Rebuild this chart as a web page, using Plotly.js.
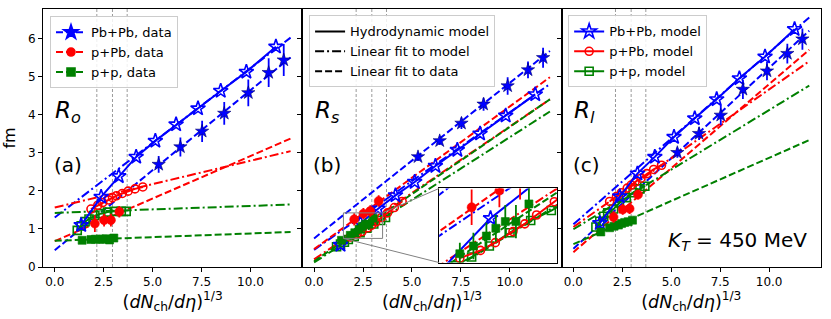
<!DOCTYPE html>
<html><head><meta charset="utf-8">
<script src="https://cdn.plot.ly/plotly-3.0.1.min.js"></script>
<style>body{margin:0;background:#fff}#chart{width:831px;height:319px}</style>
</head><body><div id="chart"></div>
<script>
// ---------- data ----------
const xTickVals = [0, 2.5, 5, 7.5, 10];
const xTickText = ["0.0", "2.5", "5.0", "7.5", "10.0"];
const yTickVals = [0, 1, 2, 3, 4, 5, 6];
const panelNames = ["R_o", "R_s", "R_l"];
const panelLetters = ["(a)", "(b)", "(c)"];
const refLines = [2.15, 2.95, 3.7];

const pbpbModelX = [11.3, 9.79, 8.48, 7.32, 6.2, 5.14, 4.16, 3.27, 2.37, 1.35];
const pbpbModelRo = [5.78, 5.12, 4.62, 4.16, 3.74, 3.31, 2.89, 2.38, 1.84, 1.1];
const pbpbModelRs = [4.53, 3.97, 3.5, 3.07, 2.65, 2.23, 1.88, 1.53, 1.15, 0.58];
const pbpbModelRl = [6.24, 5.52, 4.95, 4.4, 3.9, 3.41, 2.89, 2.45, 1.85, 1.15];

const pbpbDataX = [11.7, 10.93, 9.89, 8.66, 7.53, 6.42, 5.31];
const pbpbDataRo = [5.43, 5.10, 4.57, 4.03, 3.56, 3.15, 2.69];
const pbpbErrRo = [0.42, 0.38, 0.35, 0.3, 0.28, 0.25, 0.22];
const pbpbDataRs = [5.49, 5.17, 4.75, 4.27, 3.77, 3.31, 2.89];
const pbpbErrRs = [0.26, 0.22, 0.23, 0.17, 0.15, 0.11, 0.11];
const pbpbDataRl = [5.98, 5.6, 5.14, 4.66, 3.98, 3.5, 3.0];
const pbpbErrRl = [0.28, 0.26, 0.24, 0.25, 0.26, 0.17, 0.13];

const ppbModelX = [1.85, 2.2, 2.45, 2.75, 2.95, 3.15, 3.45, 3.75, 4.1, 4.5];
const ppbModelRo = [1.52, 1.62, 1.69, 1.76, 1.82, 1.87, 1.93, 1.99, 2.05, 2.1];
const ppbModelRs = [0.79, 0.86, 0.93, 1.03, 1.1, 1.18, 1.3, 1.42, 1.56, 1.72];
const ppbModelRl = [1.72, 1.85, 1.95, 2.07, 2.15, 2.23, 2.33, 2.45, 2.56, 2.67];

const ppbDataX = [2.05, 2.52, 2.87, 3.3];
const ppbDataRo = [1.14, 1.23, 1.23, 1.45];
const ppbErrRo = [0.22, 0.17, 0.17, 0.15];
const ppbDataRs = [1.25, 1.4, 1.47, 1.73];
const ppbErrRs = [0.16, 0.15, 0.15, 0.15];
const ppbDataRl = [1.31, 1.51, 1.53, 1.9];
const ppbErrRl = [0.15, 0.14, 0.14, 0.13];

const ppModelX = [1.15, 1.35, 1.55, 1.75, 2.05, 2.35, 2.7, 3.05, 3.4, 3.65];
const ppModelRo = [0.96, 1.08, 1.19, 1.26, 1.35, 1.4, 1.44, 1.46, 1.46, 1.46];
const ppModelRs = [0.53, 0.6, 0.65, 0.72, 0.8, 0.9, 1.02, 1.13, 1.22, 1.3];
const ppModelRl = [1.05, 1.2, 1.33, 1.42, 1.52, 1.68, 1.82, 1.95, 2.05, 2.12];

const ppDataX = [1.4, 1.85, 2.08, 2.3, 2.46, 2.62, 2.8, 3.02];
const ppDataRo = [0.7, 0.72, 0.73, 0.73, 0.73, 0.74, 0.71, 0.76];
const ppErrRo = [0.08, 0.05, 0.05, 0.05, 0.06, 0.06, 0.06, 0.06];
const ppDataRs = [0.7, 0.83, 0.9, 0.99, 1.06, 1.12, 1.12, 1.28];
const ppErrRs = [0.08, 0.1, 0.12, 0.12, 0.12, 0.15, 0.15, 0.18];
const ppDataRl = [0.92, 1.03, 1.07, 1.1, 1.14, 1.17, 1.19, 1.23];
const ppErrRl = [0.06, 0.07, 0.07, 0.08, 0.08, 0.08, 0.08, 0.08];

// linear fit lines: value at x = fitX[0] and fitX[1]
const fitX = [0, 12.05];
const fitPbPbModelRo = [1.3, 6.02], fitPbPbDataRo = [0.44, 5.5];
const fitPPbModelRo = [1.56, 3.04], fitPPbDataRo = [0.68, 3.37];
const fitPPModelRo = [1.42, 1.64], fitPPDataRo = [0.686, 0.92];
const fitPbPbModelRs = [0.45, 4.8], fitPbPbDataRs = [0.75, 5.67];
const fitPPbModelRs = [0.2, 4.4], fitPPbDataRs = [0.47, 4.98];
const fitPPModelRs = [0.12, 4.08], fitPPDataRs = [0.15, 4.4];
const fitPbPbModelRl = [1.12, 6.55], fitPbPbDataRl = [0.48, 6.2];
const fitPPbModelRl = [1.05, 5.4], fitPPbDataRl = [0.39, 5.7];
const fitPPModelRl = [0.99, 4.76], fitPPDataRl = [0.6, 3.33];

const insetXRange = [1.5, 3.5];
const insetYRange = [0.75, 1.42];

// ---------- styling ----------
const BLUE = '#0000ff', RED = '#ff0000', GREEN = '#008000';
const DASH = '7px,3px', DASHDOT = '9px,3px,2px,3px';
const FONT = 'DejaVu Sans';
const XR = [-0.6, 12.65], YR = [0, 6.77];
const panels = [
  {xa: 'x', ya: 'y',
   pbM: pbpbModelRo, pbD: pbpbDataRo, pbE: pbpbErrRo, pM: ppbModelRo, pD: ppbDataRo, pE: ppbErrRo,
   ppM: ppModelRo, ppD: ppDataRo, ppE: ppErrRo,
   fits: [fitPbPbModelRo, fitPbPbDataRo, fitPPbModelRo, fitPPbDataRo, fitPPModelRo, fitPPDataRo]},
  {xa: 'x2', ya: 'y2',
   pbM: pbpbModelRs, pbD: pbpbDataRs, pbE: pbpbErrRs, pM: ppbModelRs, pD: ppbDataRs, pE: ppbErrRs,
   ppM: ppModelRs, ppD: ppDataRs, ppE: ppErrRs,
   fits: [fitPbPbModelRs, fitPbPbDataRs, fitPPbModelRs, fitPPbDataRs, fitPPModelRs, fitPPDataRs]},
  {xa: 'x3', ya: 'y3',
   pbM: pbpbModelRl, pbD: pbpbDataRl, pbE: pbpbErrRl, pM: ppbModelRl, pD: ppbDataRl, pE: ppbErrRl,
   ppM: ppModelRl, ppD: ppDataRl, ppE: ppErrRl,
   fits: [fitPbPbModelRl, fitPbPbDataRl, fitPPbModelRl, fitPPbDataRl, fitPPModelRl, fitPPDataRl]}
];

function panelTraces(p, xa, ya) {
  const t = [];
  const fitColors = [BLUE, BLUE, RED, RED, GREEN, GREEN];
  p.fits.forEach((f, i) => {
    t.push({x: fitX, y: f, xaxis: xa, yaxis: ya, mode: 'lines', showlegend: false, hoverinfo: 'skip',
      line: {color: fitColors[i], width: 2, dash: i % 2 === 0 ? DASHDOT : DASH}});
  });
  const model = (x, y, c, sym, size) => ({x: x, y: y, xaxis: xa, yaxis: ya, mode: 'lines+markers', showlegend: false,
      line: {color: c, width: 2}, marker: {symbol: sym, size: size, color: c, line: {color: c, width: 1.6}}});
  const data = (x, y, e, c, sym, size) => ({x: x, y: y, xaxis: xa, yaxis: ya, mode: 'markers', showlegend: false,
      error_y: {type: 'data', array: e, color: c, thickness: 1.8, width: 0},
      marker: {symbol: sym, size: size, color: c, line: {color: sym === 'star' ? '#00006e' : c, width: 0.6}}});
  t.push(model(ppModelX, p.ppM, GREEN, 'square-open', 8));
  t.push(model(ppbModelX, p.pM, RED, 'circle-open', 8));
  t.push(model(pbpbModelX, p.pbM, BLUE, 'star-open', 11));
  t.push(data(ppDataX, p.ppD, p.ppE, GREEN, 'square', 8));
  t.push(data(ppbDataX, p.pD, p.pE, RED, 'circle', 9));
  t.push(data(pbpbDataX, p.pbD, p.pbE, BLUE, 'star', 10));
  return t;
}

let traces = [];
panels.forEach(p => { traces = traces.concat(panelTraces(p, p.xa, p.ya)); });
traces = traces.concat(panelTraces(panels[1], 'x4', 'y4'));

// legend-only entries
function leg(name, legend, c, sym, dash) {
  const tr = {x: [null], y: [null], name: name, legend: legend, xaxis: 'x', yaxis: 'y', showlegend: true,
    mode: sym ? 'lines+markers' : 'lines', line: {color: c, width: 2, dash: dash}};
  if (sym) tr.marker = {symbol: sym, size: sym.indexOf('star') === 0 ? 11 : 8, color: c, line: {color: c, width: 1.6}};
  return tr;
}
traces.push(leg('Pb+Pb, data', 'legend', BLUE, 'star', DASH));
traces.push(leg('p+Pb, data', 'legend', RED, 'circle', DASH));
traces.push(leg('p+p, data', 'legend', GREEN, 'square', DASH));
traces.push(leg('Hydrodynamic model', 'legend2', 'black', null, 'solid'));
traces.push(leg('Linear fit to model', 'legend2', 'black', null, DASHDOT));
traces.push(leg('Linear fit to data', 'legend2', 'black', null, DASH));
traces.push(leg('Pb+Pb, model', 'legend3', BLUE, 'star-open', 'solid'));
traces.push(leg('p+Pb, model', 'legend3', RED, 'circle-open', 'solid'));
traces.push(leg('p+p, model', 'legend3', GREEN, 'square-open', 'solid'));

const domains = [[0, 1/3], [1/3, 2/3], [2/3, 1]];
const xTitle = '(<i>dN</i><sub>ch</sub>/<i>dη</i>)<sup>1/3</sup>';
const layout = {
  width: 831, height: 319, margin: {l: 43, r: 10, t: 9, b: 52},
  paper_bgcolor: 'white', plot_bgcolor: 'white',
  font: {family: FONT, size: 12, color: 'black'},
  annotations: [], shapes: []
};
function legendCfg(x, y) {
  return {x: x, y: y, bgcolor: 'rgba(255,255,255,0.85)', bordercolor: '#cccccc', borderwidth: 1,
    font: {family: FONT, size: 13, color: 'black'}, xanchor: 'left', yanchor: 'top', tracegroupgap: 0, itemwidth: 30};
}
layout.legend = legendCfg(0.009, 0.972);
layout.legend2 = legendCfg(0.342, 0.975);
layout.legend3 = legendCfg(0.675, 0.975);

const insetDom = {x: [0.5092, 0.661], y: [0.0171, 0.3046]};
domains.forEach((d, i) => {
  const n = i === 0 ? '' : String(i + 1);
  layout['xaxis' + n] = {domain: d, range: XR, anchor: 'y' + n, tickvals: xTickVals, ticktext: xTickText,
    ticks: 'outside', ticklen: 4, tickcolor: 'black', showline: true, mirror: true, linecolor: 'black', linewidth: 1,
    showgrid: false, zeroline: false, tickfont: {size: 12},
    title: {text: xTitle, font: {size: 17.5}, standoff: 5}};
  const ya = {domain: [0, 1], range: YR, anchor: 'x' + n, tickvals: yTickVals,
    ticks: 'outside', ticklen: 4, tickcolor: 'black', showline: true, mirror: true, linecolor: 'black', linewidth: 1,
    showgrid: false, zeroline: false, showticklabels: i === 0, tickfont: {size: 12}};
  if (i === 0) ya.title = {text: 'fm', font: {size: 16}, standoff: 10};
  layout['yaxis' + n] = ya;
  refLines.forEach(v => layout.shapes.push({type: 'line', xref: 'x' + n, yref: 'y' + n + ' domain',
    x0: v, x1: v, y0: 0, y1: 1, line: {color: 'gray', width: 0.8, dash: '3px,2px'}, layer: 'below'}));
  const nm = panelNames[i].split('_');
  layout.annotations.push({xref: 'x' + n + ' domain', yref: 'y' + n + ' domain', x: 0.04, y: 0.6,
    xanchor: 'left', yanchor: 'middle', showarrow: false,
    text: '<i>' + nm[0] + '<sub>' + nm[1] + '</sub></i>', font: {size: 23}});
  layout.annotations.push({xref: 'x' + n + ' domain', yref: 'y' + n + ' domain', x: 0.035, y: 0.395,
    xanchor: 'left', yanchor: 'middle', showarrow: false, text: panelLetters[i], font: {size: 20}});
});
layout.annotations.push({xref: 'x3 domain', yref: 'y3 domain', x: 0.955, y: 0.1, xanchor: 'right', yanchor: 'middle',
  showarrow: false, text: '<i>K<sub>T</sub></i> = 450 MeV', font: {size: 20}});

// inset axes
layout.xaxis4 = {domain: insetDom.x, range: insetXRange, anchor: 'y4', showticklabels: false, ticks: '',
  showline: true, mirror: true, linecolor: 'black', linewidth: 1, showgrid: false, zeroline: false};
layout.yaxis4 = {domain: insetDom.y, range: insetYRange, anchor: 'x4', showticklabels: false, ticks: '',
  showline: true, mirror: true, linecolor: 'black', linewidth: 1, showgrid: false, zeroline: false};
layout.shapes.push({type: 'rect', xref: 'x4 domain', yref: 'y4 domain', x0: 0, x1: 1, y0: 0, y1: 1,
  fillcolor: 'white', line: {width: 0}, layer: 'below'});
// zoom rectangle and connectors in panel b data coordinates
layout.shapes.push({type: 'rect', xref: 'x2', yref: 'y2', x0: insetXRange[0], x1: insetXRange[1],
  y0: insetYRange[0], y1: insetYRange[1], line: {color: 'gray', width: 1}});
const d2 = domains[1];
const px2x = p => XR[0] + (p - d2[0]) / (d2[1] - d2[0]) * (XR[1] - XR[0]);
const py2y = p => YR[0] + p * (YR[1] - YR[0]);
layout.shapes.push({type: 'line', xref: 'x2', yref: 'y2', x0: insetXRange[1], y0: insetYRange[1],
  x1: px2x(insetDom.x[0]), y1: py2y(insetDom.y[1]), line: {color: 'gray', width: 1}});
layout.shapes.push({type: 'line', xref: 'x2', yref: 'y2', x0: insetXRange[0], y0: insetYRange[0],
  x1: px2x(insetDom.x[0]), y1: py2y(insetDom.y[0]), line: {color: 'gray', width: 1}});

Plotly.newPlot('chart', traces, layout, {staticPlot: true});
</script></body></html>
